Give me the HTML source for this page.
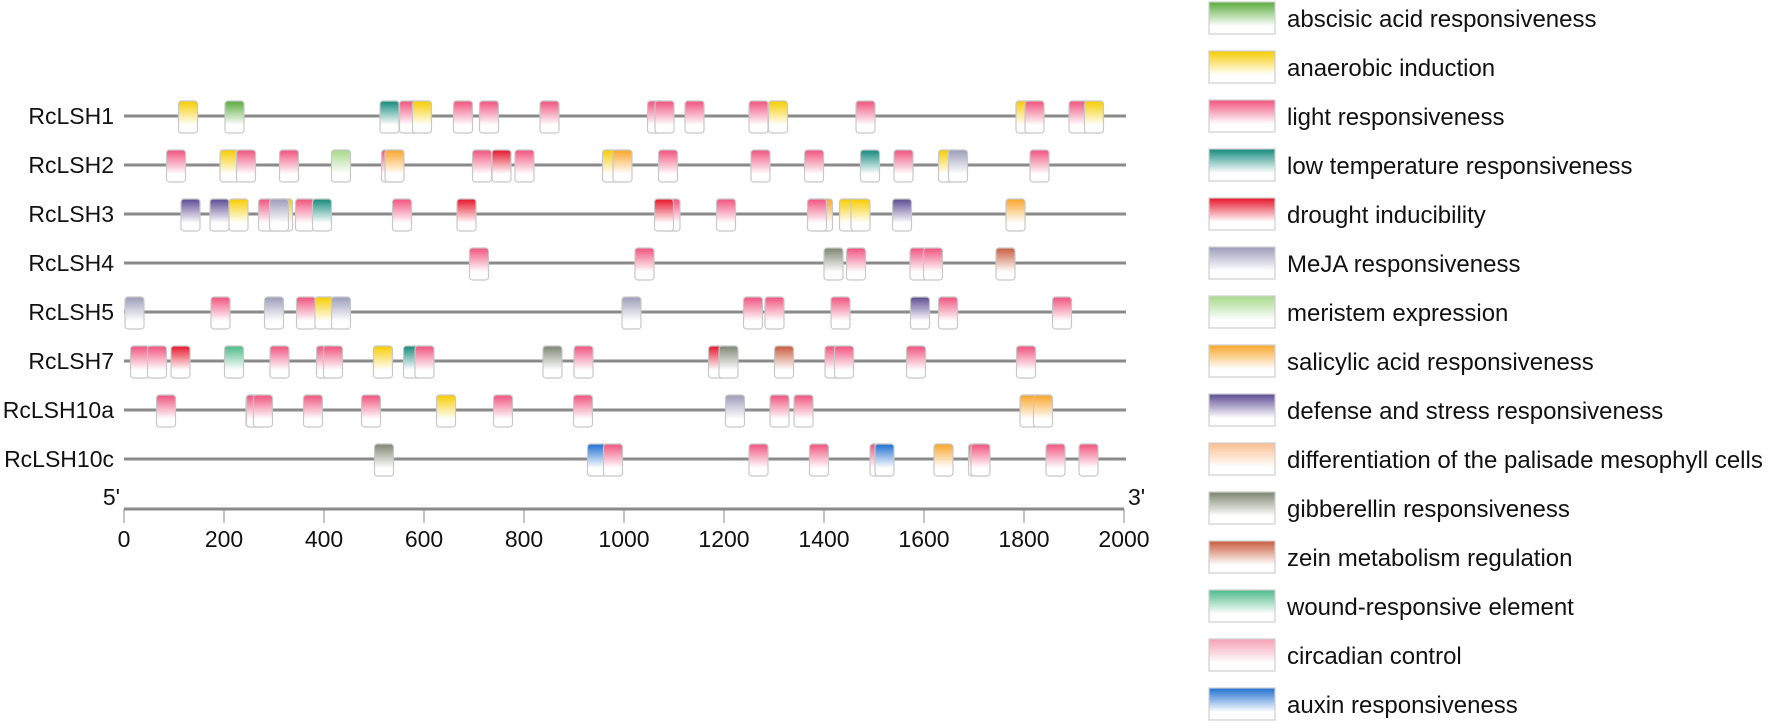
<!DOCTYPE html>
<html><head><meta charset="utf-8"><style>
html,body{margin:0;padding:0;background:#fff;}
svg{display:block;font-family:"Liberation Sans",Arial,sans-serif;}
</style></head><body>
<svg id="chart" width="1772" height="724" viewBox="0 0 1772 724" xmlns="http://www.w3.org/2000/svg">
<defs id="defs"></defs>
<g id="tracks"></g>
<g id="axis"></g>
<g id="legend"></g>
</svg>
<script>
const categories = ["abscisic acid responsiveness","anaerobic induction","light responsiveness","low temperature responsiveness","drought inducibility","MeJA responsiveness","meristem expression","salicylic acid responsiveness","defense and stress responsiveness","differentiation of the palisade mesophyll cells","gibberellin responsiveness","zein metabolism regulation","wound-responsive element","circadian control","auxin responsiveness"];
const categoryColors = ["#5aac3c","#f7cc00","#f0527d","#148a7c","#e6142a","#9c9cba","#a6d98a","#f9a52a","#5b4a92","#fbbd8e","#7c8570","#c95b3b","#4cbb88","#f5a0b5","#1e6fd0"];
const genes = ["RcLSH1","RcLSH2","RcLSH3","RcLSH4","RcLSH5","RcLSH7","RcLSH10a","RcLSH10c"];
// element category index per gene
const elemTypes = [
 [1,0,3,2,1,2,2,2,2,2,2,2,1,2,1,2,2,1],
 [2,1,2,2,6,2,7,2,4,2,1,7,2,2,2,3,2,1,5,2],
 [8,8,1,2,1,5,2,3,2,4,2,4,2,7,2,1,1,8,7],
 [2,2,10,2,2,2,11],
 [5,2,5,2,1,5,5,2,2,2,8,2,2],
 [2,2,4,12,2,2,2,1,3,2,10,2,4,10,11,2,2,2,2],
 [2,1,2,2,2,2,1,2,2,5,2,2,7,7],
 [10,14,2,2,2,2,14,7,2,2,2,2]
];
// element start positions (bp)
const elemStarts = [
 [109,202,512,551,577,659,711,832,1047,1062,1122,1250,1289,1464,1784,1802,1890,1921],
 [85,192,225,311,415,515,522,697,736,782,957,978,1069,1254,1361,1473,1540,1629,1649,1812],
 [114,172,210,269,299,291,343,377,537,666,1074,1061,1185,1379,1367,1431,1454,1537,1764],
 [691,1022,1400,1445,1572,1599,1744],
 [2,174,281,345,382,415,996,1239,1282,1414,1573,1629,1857],
 [13,47,94,201,292,385,399,499,559,582,838,900,1169,1190,1301,1402,1421,1565,1785],
 [65,244,245,259,359,475,625,739,899,1203,1292,1340,1792,1819],
 [501,927,959,1250,1371,1492,1502,1620,1689,1694,1844,1910]
];
const tickValues = [0,200,400,600,800,1000,1200,1400,1600,1800,2000];
const tickLabels = ["0","200","400","600","800","1000","1200","1400","1600","1800","2000"];
const seqLength = 2000;
const ELEM_BP = 38;

const NS = "http://www.w3.org/2000/svg";
const X0 = 124, X1 = 1124;
function xScale(v){ return X0 + (v/seqLength)*(X1-X0); }
function rowY(i){ return 116 + i*49; }
function mk(tag, attrs, parent){
  const e = document.createElementNS(NS, tag);
  for (const k in attrs) e.setAttribute(k, attrs[k]);
  parent.appendChild(e); return e;
}
const defs = document.getElementById('defs');
categoryColors.forEach((c,i)=>{
  const g = mk('linearGradient',{id:'g'+i,x1:0,y1:0,x2:0,y2:1},defs);
  mk('stop',{offset:'0',"stop-color":c},g);
  mk('stop',{offset:'0.75',"stop-color":'#ffffff'},g);
  mk('stop',{offset:'1',"stop-color":'#ffffff'},g);
});

const tracks = document.getElementById('tracks');
genes.forEach((name,gi)=>{
  const y = rowY(gi);
  const lab = mk('text',{x:114,y:y+8,"text-anchor":"end","font-size":23,fill:'#111'},tracks);
  lab.textContent = name;
  
  
  const ln = mk('line',{x1:X0,y1:y,x2:X1+2,y2:y,stroke:'#8a8a8a',"stroke-width":3},tracks);
  
  
  elemStarts[gi].forEach((s,k)=>{
    const t = elemTypes[gi][k];
    const x = xScale(s);
    const w = xScale(s+ELEM_BP)-x;
    const r = mk('rect',{x:x,y:y-15,width:w,height:32,rx:3,ry:3,fill:'url(#g'+t+')',stroke:'#c8c8c8',"stroke-width":1.2},tracks);
    
    
  });
});

const axis = document.getElementById('axis');
const AY = 509;
mk('line',{x1:X0,y1:AY,x2:X1,y2:AY,stroke:'#8a8a8a',"stroke-width":3},axis);
tickValues.forEach((v,i)=>{
  const x = xScale(v);
  const t = mk('line',{x1:x,y1:AY,x2:x,y2:AY+14,stroke:'#888',"stroke-width":1},axis);
  
  
  const tl = mk('text',{x:x,y:AY+38,"text-anchor":"middle","font-size":23,fill:'#111'},axis);
  tl.textContent = tickLabels[i];
  
  
});
const p5 = mk('text',{x:X0-4,y:AY-4,"text-anchor":"end","font-size":23,fill:'#111'},axis);
p5.textContent = "5'";


const p3 = mk('text',{x:X1+4,y:AY-4,"text-anchor":"start","font-size":23,fill:'#111'},axis);
p3.textContent = "3'";



const legend = document.getElementById('legend');
categories.forEach((c,i)=>{
  const y = 2 + i*49;
  const r = mk('rect',{x:1209,y:y,width:66,height:32,fill:'url(#g'+i+')',stroke:'#cfcfcf',"stroke-width":1.2},legend);
  
  
  const t = mk('text',{x:1287,y:y+25,"font-size":24,fill:'#111'},legend);
  t.textContent = c;
  
  
});
</script>
</body></html>
